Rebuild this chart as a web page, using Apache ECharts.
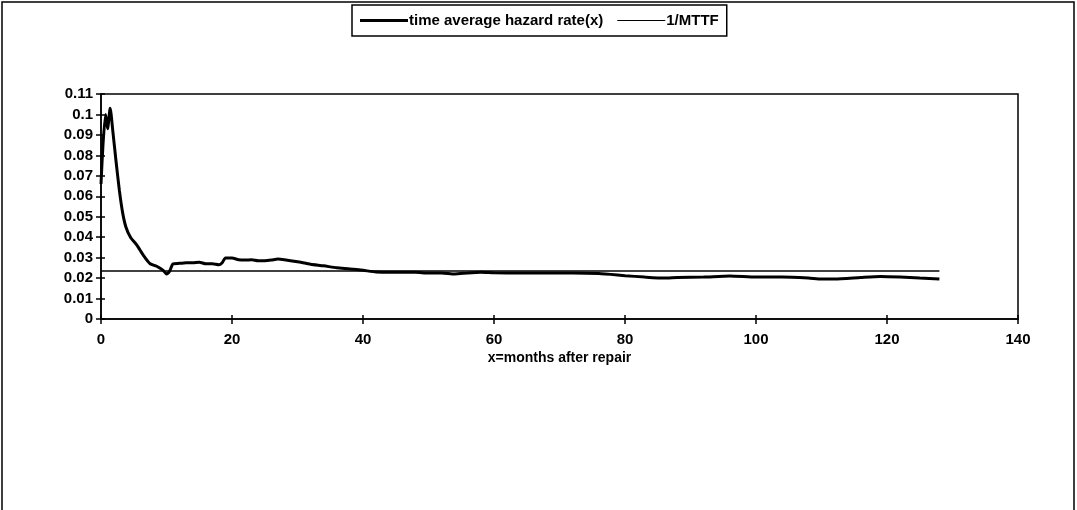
<!DOCTYPE html>
<html>
<head>
<meta charset="utf-8">
<script src="https://cdn.jsdelivr.net/npm/echarts@6/dist/echarts.min.js"></script>
<style>
  html, body { margin: 0; padding: 0; background: #fff; }
  #chart { width: 1077px; height: 510px; }
</style>
</head>
<body>
<div id="chart"></div>
<script>
// months after repair
const months = [0, 0.3, 0.7, 1.0, 1.4, 1.8, 2.3, 2.8, 3.3, 3.8, 4.5, 5.5, 6.5, 7.5, 8.5, 9.5, 10, 10.5, 11, 12, 13, 14, 15, 16, 17, 18, 18.5, 19, 20, 21, 22, 23, 24, 25, 26, 27, 28, 30, 32, 34, 36, 38, 40, 42, 44, 46, 48, 50, 52, 54, 56, 58, 60, 64, 68, 72, 76, 80, 83, 86, 88, 92, 96, 100, 104, 108, 110, 112, 116, 119, 122, 125, 128];
// time average hazard rate at each month
const hazardRate = [0.066, 0.085, 0.100, 0.093, 0.103, 0.092, 0.077, 0.063, 0.052, 0.045, 0.040, 0.036, 0.031, 0.027, 0.0258, 0.0238, 0.022, 0.0235, 0.027, 0.0272, 0.0275, 0.0275, 0.0278, 0.027, 0.027, 0.0265, 0.0275, 0.0298, 0.0298, 0.029, 0.0288, 0.029, 0.0285, 0.0285, 0.0288, 0.0293, 0.029, 0.028, 0.0268, 0.026, 0.025, 0.0245, 0.0238, 0.023, 0.0228, 0.0228, 0.0228, 0.0225, 0.0225, 0.022, 0.0225, 0.0228, 0.0226, 0.0225, 0.0225, 0.0225, 0.0222, 0.0212, 0.0205, 0.020, 0.0203, 0.0205, 0.021, 0.0205, 0.0205, 0.020, 0.0195, 0.0195, 0.0203, 0.0208, 0.0205, 0.020, 0.0195];
// reciprocal of mean time to failure
const invMTTF = 0.0235;
const mttfSpan = [0, 128];
const xTicks = { min: 0, max: 140, interval: 20 };
const yTicks = { min: 0, max: 0.11, interval: 0.01 };

const hazardData = months.map((m, i) => [m, hazardRate[i]]);
const mttfData = mttfSpan.map(m => [m, invMTTF]);

const font = 'Liberation Sans, Arial, sans-serif';
const chart = echarts.init(document.getElementById('chart'), null, { renderer: 'canvas' });

const axisLineStyle = { color: '#000', width: 1.5 };
const labelStyle = { color: '#000', fontFamily: font, fontWeight: 'bold', fontSize: 15 };

chart.setOption({
  backgroundColor: '#fff',
  animation: false,
  graphic: [{
    type: 'rect',
    shape: { x: 2, y: 2, width: 1072, height: 520 },
    style: { fill: 'none', stroke: '#000', lineWidth: 1.5 },
    silent: true
  }],
  legend: {
    left: 352, top: 5,
    padding: [8, 8, 8, 8],
    borderColor: '#000', borderWidth: 1.5,
    itemWidth: 48, itemHeight: 10, itemGap: 14,
    textStyle: { color: '#000', fontFamily: font, fontWeight: 'bold', fontSize: 15, padding: [0, 0, 0, -4] },
    data: [
      { name: 'time average hazard rate(x)', icon: 'path://M0,3.4 L48,3.4 L48,6.6 L0,6.6 Z' },
      { name: '1/MTTF', icon: 'path://M0,4.4 L48,4.4 L48,5.6 L0,5.6 Z' }
    ]
  },
  grid: {
    left: 101, right: 59, top: 94, bottom: 191,
    show: true, borderColor: '#000', borderWidth: 1.5, backgroundColor: 'transparent'
  },
  xAxis: [{
    type: 'value',
    min: xTicks.min, max: xTicks.max, interval: xTicks.interval,
    name: 'x=months after repair',
    nameLocation: 'middle', nameGap: 32,
    nameTextStyle: { color: '#000', fontFamily: font, fontWeight: 'bold', fontSize: 14 },
    axisLine: { show: true, lineStyle: axisLineStyle },
    axisTick: { show: true, inside: false, length: 5, lineStyle: axisLineStyle },
    axisLabel: Object.assign({ margin: 13 }, labelStyle),
    splitLine: { show: false }
  }, {
    type: 'value', position: 'bottom',
    min: xTicks.min, max: xTicks.max, interval: xTicks.interval,
    axisLine: { show: false },
    axisTick: { show: true, inside: true, length: 4, lineStyle: axisLineStyle },
    axisLabel: { show: false },
    splitLine: { show: false }
  }],
  yAxis: [{
    type: 'value',
    min: yTicks.min, max: yTicks.max, interval: yTicks.interval,
    axisLine: { show: true, lineStyle: axisLineStyle },
    axisTick: { show: true, inside: false, length: 5, lineStyle: axisLineStyle },
    axisLabel: Object.assign({ margin: 8, formatter: v => String(parseFloat(v.toFixed(2))) }, labelStyle),
    splitLine: { show: false }
  }, {
    type: 'value', position: 'left',
    min: yTicks.min, max: yTicks.max, interval: yTicks.interval,
    axisLine: { show: false },
    axisTick: { show: true, inside: true, length: 4, lineStyle: axisLineStyle },
    axisLabel: { show: false },
    splitLine: { show: false }
  }],
  series: [{
    name: 'time average hazard rate(x)',
    type: 'line',
    data: hazardData,
    showSymbol: false, symbol: 'none',
    smooth: 0.2,
    lineStyle: { color: '#000', width: 3 },
    itemStyle: { color: '#000' },
    z: 3
  }, {
    name: '1/MTTF',
    type: 'line',
    data: mttfData,
    showSymbol: false, symbol: 'none',
    lineStyle: { color: '#000', width: 1.5 },
    itemStyle: { color: '#000' },
    z: 2
  }]
});
</script>
</body>
</html>
